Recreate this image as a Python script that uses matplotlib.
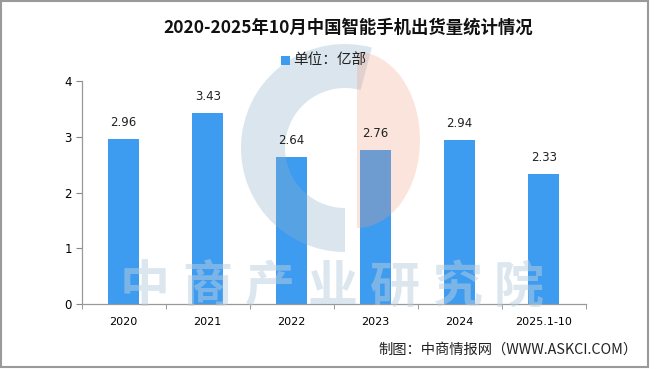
import matplotlib
matplotlib.use("Agg")
import matplotlib.pyplot as plt
from matplotlib.patches import Rectangle, Wedge
from matplotlib.transforms import Affine2D

plt.rcParams['font.family'] = ['Noto Sans CJK SC', 'DejaVu Sans']

categories = ['2020', '2021', '2022', '2023', '2024', '2025.1-10']
values = [2.96, 3.43, 2.64, 2.76, 2.94, 2.33]
value_labels = ['2.96', '3.43', '2.64', '2.76', '2.94', '2.33']
title = '2020-2025年10月中国智能手机出货量统计情况'
legend_label = '单位：亿部'
source = '制图：中商情报网（WWW.ASKCI.COM）'
watermark = '中商产业研究院'

W, H = 660, 369
fig = plt.figure(figsize=(6.6, 3.69), dpi=100)
fig.patch.set_facecolor('white')


def fx(px):
    return px / W


def fy(py):
    return 1 - py / H


# pixel transform (origin top-left of figure)
pix = Affine2D().scale(1.0 / W, -1.0 / H).translate(0, 1) + fig.transFigure

ax = fig.add_axes([fx(81.7), fy(304.3), fx(585.7) - fx(81.7), fy(80.7) - fy(304.3)])
bar_color = '#3d9bf0'
x = list(range(len(categories)))
ax.bar(x, values, width=0.37, color=bar_color, zorder=2)
for xi, v, lab in zip(x, values, value_labels):
    ax.text(xi, v + 0.29, lab, ha='center', va='center', fontsize=8.5, color='#222222',
            family='DejaVu Sans', zorder=4)

ax.set_xlim(-0.5, len(categories) - 0.5)
ax.set_ylim(0, 4)
ax.set_yticks([0, 1, 2, 3, 4])
ax.set_yticklabels(['0', '1', '2', '3', '4'], fontsize=8.5, family='DejaVu Sans')
ax.set_xticks(x)
ax.set_xticklabels(categories, fontsize=8, family='DejaVu Sans')
ax.tick_params(axis='x', length=0, pad=9)
ax.set_xticks([i - 0.5 for i in range(len(categories) + 1)], minor=True)
ax.tick_params(axis='x', which='minor', length=3.5, color='#888888', direction='out')
ax.tick_params(axis='y', length=4, color='#888888', direction='out', pad=3)
for s in ['top', 'right']:
    ax.spines[s].set_visible(False)
for s in ['left', 'bottom']:
    ax.spines[s].set_color('#999999')
    ax.spines[s].set_linewidth(0.9)
ax.set_facecolor('none')

# faint logo watermark (above bars, below labels)
logo_blue = '#8fb3c9'
logo_salmon = '#f0a080'
ring = Wedge((345, 148), 104, 90, 285, width=44, facecolor=logo_blue, edgecolor='none',
             alpha=0.33, transform=pix, zorder=2.5, clip_on=False)
half = Wedge((0, 0), 1, -90, 90, facecolor=logo_salmon, edgecolor='none', alpha=0.28,
             transform=Affine2D().scale(63, 88).translate(357, 140) + pix, zorder=2.5,
             clip_on=False)
for p in (ring, half):
    ax.add_artist(p)

# text watermark
wm_centers = [145, 207, 270, 332, 395, 457, 519]
for ch, cx in zip(watermark, wm_centers):
    fig.text(fx(cx), fy(288), ch, ha='center', va='center', fontsize=36, fontweight='bold',
             color='#b9cfe0', alpha=0.5, zorder=6)

# title
fig.text(fx(348), fy(28), title, ha='center', va='center', fontsize=12.5, fontweight='bold',
         color='#111111')
# legend
fig.patches.append(Rectangle((281, 56), 9, 8.5, transform=pix,
                             facecolor=bar_color, edgecolor='none'))
fig.text(fx(293), fy(60), legend_label, ha='left', va='center', fontsize=10.5, color='#222222')

# source
fig.text(fx(638), fy(350), source, ha='right', va='center', fontsize=10.3, color='#222222')

# border
fig.patches.append(Rectangle((1, 1), 646.5, 366, transform=pix,
                             facecolor='none', edgecolor='#9a9a9a', linewidth=1.5))

fig.savefig('out.png', dpi=100)
